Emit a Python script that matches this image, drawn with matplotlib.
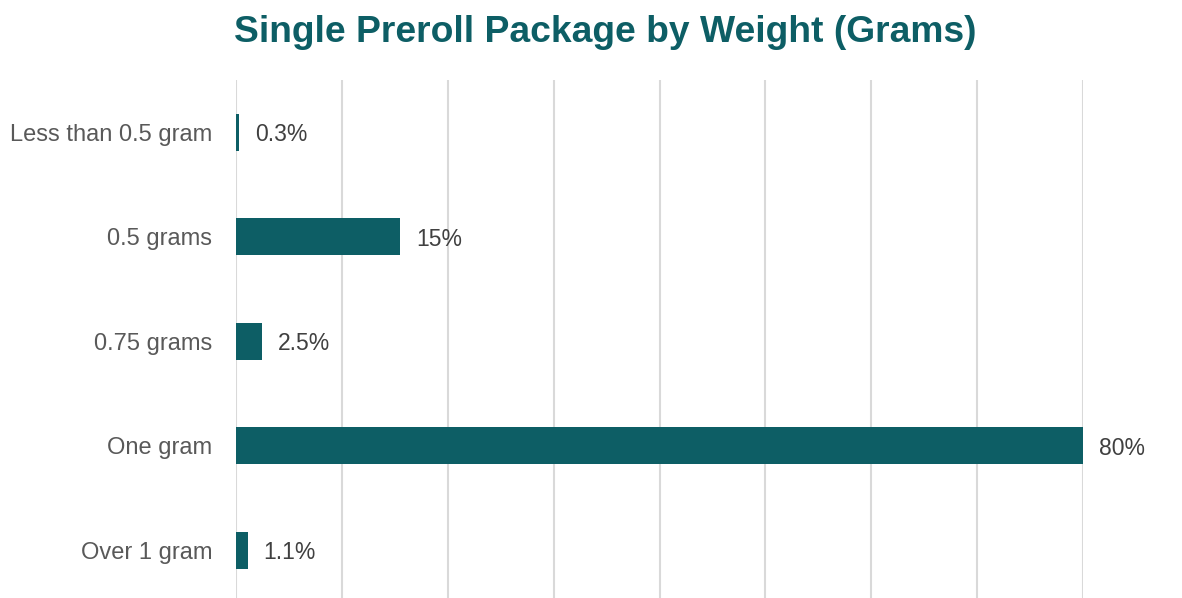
import matplotlib.pyplot as plt

categories = ["Less than 0.5 gram", "0.5 grams", "0.75 grams", "One gram", "Over 1 gram"]
values = [0.3, 15.5, 2.5, 80, 1.1]
labels = ["0.3%", "15%", "2.5%", "80%", "1.1%"]

plt.rcParams['font.family'] = ['Liberation Sans', 'DejaVu Sans']

fig = plt.figure(figsize=(11.82, 5.98), dpi=100)
ax = fig.add_axes([236/1182, -4.5/598, (1083-236)/1182, 522.5/598])

bar_color = "#0d5e65"
ypos = range(len(categories))
ax.barh(ypos, values, height=0.35, color=bar_color, zorder=3)

for y, v, lab in zip(ypos, values, labels):
    ax.text(v + 1.5, y, lab, va="center_baseline", ha="left", fontsize=16.5, color="#404040")

ax.set_xlim(0, 80)
ax.set_ylim(len(categories) - 0.5, -0.5)
ax.set_xticks(range(0, 81, 10))
ax.set_xticklabels([])
ax.tick_params(axis="x", length=0)
ax.set_yticks(list(ypos))
ax.set_yticklabels(categories, fontsize=17, color="#595959")
ax.tick_params(axis="y", length=0, pad=17)
ax.grid(axis="x", color="#d9d9d9", linewidth=1.5, zorder=0)
for s in ax.spines.values():
    s.set_visible(False)

fig.text(605/1182, 1 - 29/598, "Single Preroll Package by Weight (Grams)",
         ha="center", va="center_baseline", fontsize=26.8, fontweight="bold", color=bar_color)

fig.savefig("out.png", dpi=100)
